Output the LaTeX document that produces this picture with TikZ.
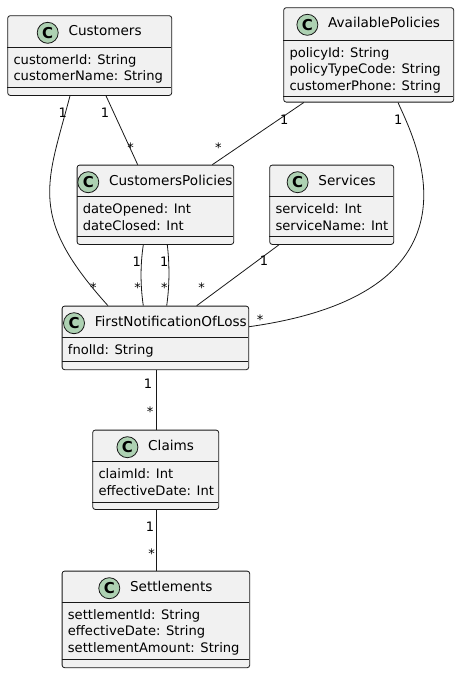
\documentclass[tikz,border=0pt]{standalone}
\usepackage{fontspec}
\setmainfont{DejaVu Sans}
\definecolor{boxfill}{HTML}{F1F1F1}
\definecolor{boxline}{HTML}{181818}
\definecolor{spotfill}{HTML}{ADD1B2}
\tikzset{
  classbox/.style={draw=boxline, fill=boxfill, rounded corners=2.5pt, line width=0.8pt, inner sep=0pt},
  sepline/.style={draw=boxline, line width=0.8pt},
  titletext/.style={inner sep=0pt, font=\fontsize{13.6}{16}\selectfont},
  attrtext/.style={inner sep=0pt, font=\fontsize{13.1}{16}\selectfont},
  spot/.style={circle, draw=boxline, fill=spotfill, line width=0.8pt, minimum size=21pt, inner sep=0pt, font=\fontsize{15}{16}\selectfont\bfseries},
  conn/.style={draw=boxline, line width=0.8pt},
  mult/.style={inner sep=0pt, font=\fontsize{13}{14}\selectfont},
}
\newcommand{\umlclass}[9]{%
  \pgfmathsetmacro\clw{#4-#2}%
  \pgfmathsetmacro\clh{#7-#3}%
  \node[classbox, minimum width=\clw pt, minimum height=\clh pt, anchor=north west] (#1) at (#2,#3) {};
  \draw[sepline] (#2,#5) -- (#4,#5);
  \draw[sepline] (#2,#6) -- (#4,#6);
  \node[titletext, anchor=base] (#1-title) at ({(#2+#4)/2},{#3+20.5}) {\hspace{31.6pt}#8};
  \node[spot] (#1-spot) at ([xshift=11pt, yshift=3pt]#1-title.base west) {C};
  \foreach \a [count=\i] in {#9} {
    \node[attrtext, anchor=base west] (#1-a\i) at ({#2+6},{#5+17+(\i-1)*16.5}) {\a};
  }
}
\begin{document}
\begin{tikzpicture}[x=1pt, y=-1pt]
\useasboundingbox (0,0) rectangle (459,673);
\umlclass{cust}{7.3}{15.3}{171.3}{47.3}{87.3}{95}{Customers}{customerId: String, customerName: String}
\umlclass{ap}{283.3}{7.3}{453.3}{40}{96}{101.7}{AvailablePolicies}{policyId: String, policyTypeCode: String, customerPhone: String}
\umlclass{cp}{76.7}{164.7}{233.3}{196.7}{236.7}{244}{CustomersPolicies}{dateOpened: Int, dateClosed: Int}
\umlclass{svc}{269.3}{164.7}{393.3}{196.7}{236}{244}{Services}{serviceId: Int, serviceName: Int}
\umlclass{fnol}{61.7}{305.7}{248.3}{337.3}{361}{369.3}{FirstNotificationOfLoss}{fnolId: String}
\umlclass{claims}{92.3}{429.7}{218.3}{461.7}{502.3}{509}{Claims}{claimId: Int, effectiveDate: Int}
\umlclass{sett}{61.7}{570.7}{249.3}{602.3}{659}{667.3}{Settlements}{settlementId: String, effectiveDate: String, settlementAmount: String}

% connectors
\draw[conn] ([xshift=62.7pt]cust.south west) .. controls (46.9,184) and (27,216) .. ([xshift=46.3pt]fnol.north west);
\draw[conn] ([xshift=98.7pt]cust.south west) -- ([xshift=61pt]cp.north west);
\draw[conn] ([xshift=20.5pt]ap.south west) -- ([xshift=135.6pt]cp.north west);
\draw[conn] ([xshift=114.7pt]ap.south west) .. controls (413.8,138.4) and (496,292) .. ([yshift=-21pt]fnol.north east);
\draw[conn] ([xshift=66.6pt]cp.south west) .. controls (140.3,265) and (140.3,285) .. ([xshift=81.6pt]fnol.north west);
\draw[conn] ([xshift=90.6pt]cp.south west) .. controls (169.6,265) and (169.6,285) .. ([xshift=105pt]fnol.north west);
\draw[conn] ([xshift=9.7pt]svc.south west) -- ([xshift=135pt]fnol.north west);
\draw[conn] ([xshift=0.5pt]fnol.south) -- ([xshift=0.5pt]fnol.south |- claims.north);
\draw[conn] ([xshift=0.5pt]claims.south) -- ([xshift=0.5pt]claims.south |- sett.north);

% multiplicities
\node[mult] (m1) at (62.7,112.7) {1};
\node[mult] (m2) at (93.3,288) {*};
\node[mult] (m3) at (105,112.7) {1};
\node[mult] (m4) at (130.7,148) {*};
\node[mult] (m5) at (284.3,120) {1};
\node[mult] (m6) at (218.3,148) {*};
\node[mult] (m7) at (398.3,120) {1};
\node[mult] (m8) at (260,320) {*};
\node[mult] (m9) at (136.7,261.7) {1};
\node[mult] (m10) at (164.3,261.7) {1};
\node[mult] (m11) at (137.7,288) {*};
\node[mult] (m12) at (164.3,288) {*};
\node[mult] (m13) at (264,260.7) {1};
\node[mult] (m14) at (201.7,288) {*};
\node[mult] (m15) at (148,384) {1};
\node[mult] (m16) at (150,412) {*};
\node[mult] (m17) at (150,526.7) {1};
\node[mult] (m18) at (151.7,554) {*};
\end{tikzpicture}
\end{document}
